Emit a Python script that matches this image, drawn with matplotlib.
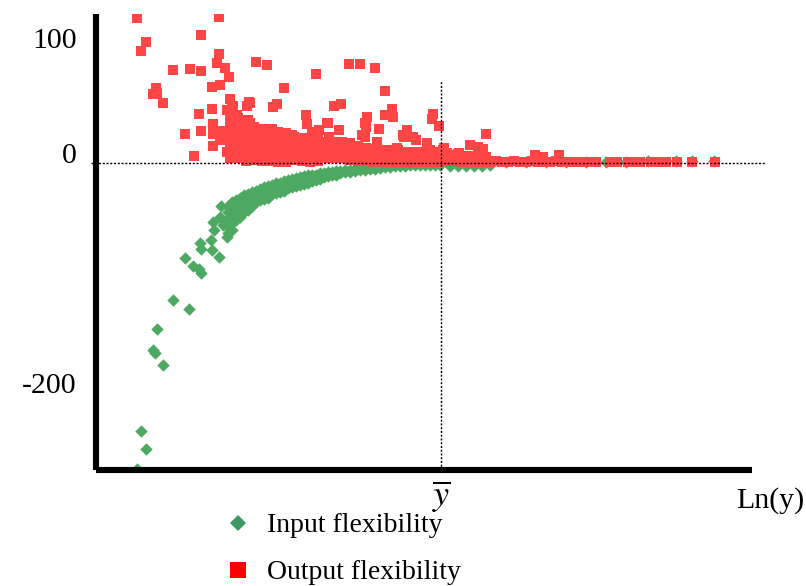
import matplotlib
matplotlib.use("Agg")
import matplotlib.pyplot as plt
from matplotlib.lines import Line2D

plt.rcParams['font.family'] = ['Liberation Serif', 'DejaVu Serif']
plt.rcParams['mathtext.fontset'] = 'stix'

# ---------------- data (x = Ln(y) in arbitrary units, y = flexibility) ----------------
# Output flexibility: scattered points
red_sparse_x = [4.1, 12.3, 5.0, 4.5, 10.5, 12.3, 12.1, 12.9, 13.3, 7.7, 9.4, 10.5, 16.0, 17.1, 22.0,
                6.0, 5.7, 6.1, 6.7, 11.6, 12.4, 18.8, 13.4, 13.7, 15.3, 15.1, 17.7, 18.1, 10.3, 11.6,
                21.0, 21.1, 8.9, 10.5, 11.7, 11.7, 11.7, 9.8, 12.4, 12.4, 13.1, 14.6, 17.6, 21.9,
                25.3, 26.4, 27.9, 28.9, 23.8, 24.5, 15.4, 27.1, 26.9, 27.0, 29.6, 28.9, 29.7, 33.7,
                33.6, 34.3, 23.2, 24.3, 28.3, 31.1, 19.3, 22.1, 26.6, 30.7, 31.7, 39.0, 30.8, 32.0,
                33.1, 28.1, 30.1, 37.4, 38.2, 38.7, 34.7, 36.3, 35.4, 43.9, 44.7, 46.3, 13.1, 13.6,
                14.1, 15.2, 15.4, 23.1, 12.5, 19.6, 21.6, 22.3, 23.3, 26.9, 34.8, 36.2, 35.1]
red_sparse_y = [126, 127, 105, 97, 111, 95, 87, 83, 75, 81, 82, 80, 88, 85, 77,
                65, 60, 61, 52, 66, 68, 65, 56, 50, 53, 50, 49, 51, 43, 47,
                42, 34, 25, 28, 34, 25, 15, 6, 28, 20, 10, 4, 30, 27,
                86, 86, 83, 63, 50, 51, 52, 40, 35, 31, 47, 42, 40, 43,
                38, 32, 35, 29, 30, 29, 24, 27, 24, 24, 23, 25, 23, 20,
                17, 18, 13, 16, 14, 12, 11, 9, 7, 7, 5, 7, 46, 49,
                42, 37, 35, 35, 27, 24, 27, 29, 23, 23, 13, 8, 9]

# Output flexibility: dense core (columns of x with their y values)
red_core_cols = [
    (13.4, [39, 32, 25, 18, 11, 4]),
    (14.2, [39, 32, 25, 18, 11, 4]),
    (15.0, [34, 27, 20, 13, 6, 2]),
    (15.8, [31, 24, 17, 10, 3]),
    (16.6, [30, 23, 16, 9, 2]),
    (17.4, [29, 22, 15, 8, 2]),
    (18.2, [27, 20, 13, 6, 1]),
    (19.0, [26, 19, 12, 5, 1]),
    (19.8, [23, 16, 9, 3]),
    (20.6, [22, 15, 8, 2]),
    (21.4, [20, 13, 6, 1]),
    (22.2, [22, 15, 8, 2]),
    (23.0, [18, 11, 4]),
    (23.8, [18, 11, 4]),
    (24.6, [18, 11, 4]),
    (25.4, [17, 10, 3]),
    (26.2, [15, 8, 2]),
    (27.0, [13, 7, 2]),
    (27.8, [12, 6, 1]),
    (28.6, [11, 5, 1]),
    (29.4, [11, 5, 1]),
    (30.2, [11, 5, 1]),
    (31.0, [10, 4, 1]),
    (31.8, [10, 4, 1]),
    (32.6, [10, 4, 1]),
    (33.4, [11, 5, 1]),
    (34.2, [10, 4, 1]),
    (35.0, [8, 2]),
    (35.8, [7, 2]),
    (36.6, [6, 1]),
    (37.4, [6, 1]),
    (38.2, [5, 1]),
    (39.0, [5, 1]),
]

# Output flexibility: thin tail to the right
red_tail_x = [39.4, 40.0, 40.6, 41.2, 41.8, 42.4, 43.0, 43.6, 44.2, 44.8, 45.4, 46.0, 46.6, 47.2,
              47.8, 48.4, 49.0, 49.6, 50.0, 51.4, 52.1, 53.2, 53.8, 54.4, 55.5, 56.3, 57.0,
              58.1, 59.6, 61.9]
red_tail_y = [1, 2, 1, 1, 2, 1, 1, 2, 1, 1, 1, 2, 1, 1,
              1, 1, 1, 1, 1, 1, 1, 1, 1, 1, 1, 1, 1,
              1, 1, 1]

# Input flexibility: scattered points
green_sparse_x = [4.5, 5.0, 6.1, 5.7, 5.9, 6.7, 7.7, 9.3, 8.9, 9.7, 10.3, 10.5, 10.4, 10.5,
                  11.5, 11.6, 12.3, 11.7, 11.8, 12.5, 12.4, 12.7, 13.1, 13.4, 13.6, 4.1]
green_sparse_y = [-233, -249, -144, -163, -165, -176, -119, -127, -83, -90, -92, -96, -70, -75,
                  -67, -76, -82, -51, -58, -37, -47, -54, -64, -38, -51, -266]

# Input flexibility: dense band (columns)
green_core_cols = [
    (13.2, [-37, -43, -49, -55, -61]),
    (13.6, [-34, -40, -46, -52, -58]),
    (14.0, [-32, -38, -44, -50]),
    (14.4, [-30, -35, -41, -47]),
    (14.8, [-28, -33, -38, -43]),
    (15.2, [-27, -31, -36, -41]),
    (15.6, [-25, -30, -37]),
    (16.0, [-24, -29, -34]),
    (16.4, [-23, -28, -32]),
    (16.8, [-21, -26, -31]),
    (17.2, [-20, -24, -30]),
    (17.6, [-19, -23, -27]),
    (18.0, [-17, -22, -26]),
    (18.4, [-17, -21, -25]),
    (18.8, [-16, -20, -24]),
    (19.2, [-15, -18, -22]),
    (19.6, [-14, -17, -21]),
    (20.0, [-13, -16, -20]),
    (20.4, [-12, -16, -19]),
    (20.8, [-11, -15, -18]),
    (21.2, [-10, -14, -17]),
    (21.6, [-10, -13, -16]),
    (22.0, [-10, -12, -15]),
    (22.4, [-9, -11, -14]),
    (22.8, [-9, -12]),
    (23.2, [-8, -11]),
    (23.6, [-8, -10]),
    (24.0, [-7, -10]),
    (24.4, [-7, -9]),
    (24.9, [-6, -8]),
    (25.4, [-6, -8]),
    (25.9, [-5, -7]),
    (26.4, [-5, -6]),
    (26.9, [-4.5, -6]),
    (27.4, [-4, -5]),
    (27.9, [-4, -5]),
    (28.4, [-3.5, -4]),
    (28.9, [-3.5]),
    (29.4, [-3.5]),
    (29.9, [-3]),
    (30.4, [-3]),
    (30.9, [-2.5]),
    (31.4, [-2]),
    (31.9, [-2]),
    (32.4, [-1.5]),
    (32.9, [-1.5]),
    (33.4, [-1.5]),
    (33.9, [-1.5]),
    (34.4, [-1.5]),
]

# Input flexibility: tail to the right (mostly hidden under the red points)
green_tail_x = [35.4, 36.2, 37.0, 37.8, 38.6, 39.4, 41.0, 43.0, 45.0, 47.0, 49.0, 51.0, 53.0,
                55.2, 58.0, 59.6, 61.8]
green_tail_y = [-2.5, -2.5, -2.5, -2.5, -2.5, -2, 0.5, 0.5, 0.5, 0.5, 0.5, 0.5, 0.5,
                1.7, 1.7, 1.7, 1.7]

ybar_x = 34.5                 # position of the mean, y-bar
y_tick_values = [100, 0, -200]
y_tick_labels = ['100', '0', '-200']
legend_labels = ['Input flexibility', 'Output flexibility']

# ---------------- assemble ----------------
red_x = list(red_sparse_x) + [c for c, ys in red_core_cols for _ in ys] + list(red_tail_x)
red_y = list(red_sparse_y) + [v for c, ys in red_core_cols for v in ys] + list(red_tail_y)
green_x = list(green_sparse_x) + [c for c, ys in green_core_cols for _ in ys] + list(green_tail_x)
green_y = list(green_sparse_y) + [v for c, ys in green_core_cols for v in ys] + list(green_tail_y)

RED = '#ff4545'
GREEN = '#4da862'
LEG_GREEN = '#3d9963'
LEG_RED = '#ff0000'

W, H = 806, 586
fig = plt.figure(figsize=(W / 100, H / 100), dpi=100)
ax = fig.add_axes([96 / W, 1 - 470 / H, 670 / W, 456 / H])
ax.set_xlim(0, 67)
ax.set_ylim(-267, 129.6)

ax.scatter(green_x, green_y, marker='D', s=40, color=GREEN, linewidths=0, zorder=2)
ax.scatter(red_x, red_y, marker='s', s=58, color=RED, linewidths=0, zorder=3)

ax.axhline(0, xmin=-0.0075, xmax=1.0, color='black', lw=1.0, ls=(0, (1.5, 1.2)),
           clip_on=False, zorder=5)
ax.axvline(ybar_x, ymin=0, ymax=0.855, color='black', lw=1.0, ls=(0, (1.5, 1.2)),
           zorder=5)

for s in ['top', 'right']:
    ax.spines[s].set_visible(False)
for s in ['left', 'bottom']:
    ax.spines[s].set_linewidth(4.4)
    ax.spines[s].set_zorder(6)
    ax.spines[s].set_capstyle('butt')
ax.spines['bottom'].set_bounds(0, 65.6)

ax.set_xticks([])
ax.set_yticks(y_tick_values)
ax.set_yticklabels(y_tick_labels)
ax.tick_params(axis='y', length=0, pad=14, labelsize=21.5)
for lbl in ax.get_yticklabels():
    lbl.set_verticalalignment('baseline')

ax.annotate(r'$\overline{y}$', xy=(ybar_x, 0), xycoords=('data', 'axes fraction'),
            xytext=(0, -19), textcoords='offset points', ha='center', va='center',
            fontsize=26)
fig.text(770 / W, 1 - 501 / H, 'Ln(y)', ha='center', va='center', fontsize=21.5)

handles = [Line2D([], [], ls='none', marker='D', markersize=8.2, color=LEG_GREEN, markeredgewidth=0),
           Line2D([], [], ls='none', marker='s', markersize=11, color=LEG_RED, markeredgewidth=0)]
ax.legend(handles, legend_labels, loc='upper left', bbox_to_anchor=(224 / W, 1 - 513 / H),
          bbox_transform=fig.transFigure, frameon=False, fontsize=20, handlelength=1.0,
          handletextpad=0.54, borderpad=0, borderaxespad=0, labelspacing=0.77)

fig.savefig('out.png', dpi=100)
